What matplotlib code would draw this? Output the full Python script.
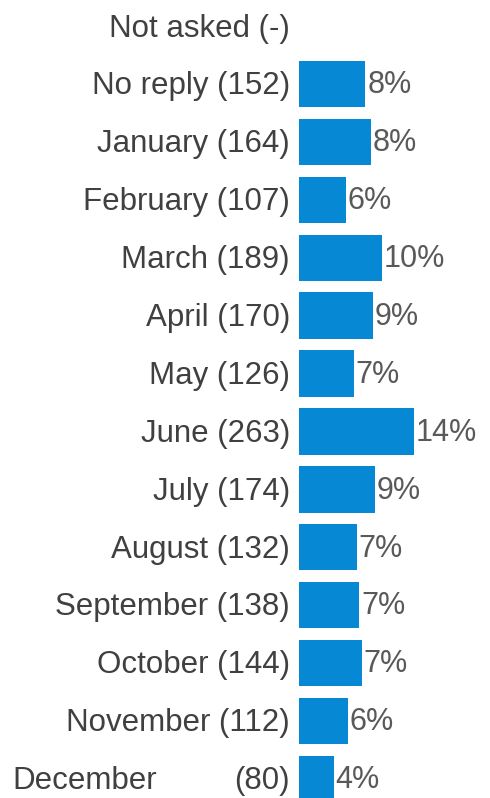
import matplotlib
matplotlib.use("Agg")
import matplotlib.pyplot as plt

categories = ["Not asked", "No reply", "January", "February", "March", "April", "May",
              "June", "July", "August", "September", "October", "November", "December"]
counts = [None, 152, 164, 107, 189, 170, 126, 263, 174, 132, 138, 144, 112, 80]
count_labels = ["-", "152", "164", "107", "189", "170", "126", "263", "174", "132",
                "138", "144", "112", "80"]
pct_labels = ["", "8%", "8%", "6%", "10%", "9%", "7%", "14%", "9%", "7%", "7%", "7%", "6%", "4%"]

W, H = 490, 798
fig = plt.figure(figsize=(W / 100, H / 100), dpi=100)
x0 = 299
ax = fig.add_axes([x0 / W, 0, 1 - x0 / W, 1])
ax.axis("off")

row0, step = 25, 57.9
ax.set_ylim((H - row0) / step, -row0 / step)
px_per = 0.437
ax.set_xlim(0, (W - x0) / px_per)

fam = ["Liberation Sans", "DejaVu Sans"]
fs = 22.5
fs_pct = 22
lab_col = "#404040"
pct_col = "#595959"
bar_col = "#0788D4"

for i, (cat, c, cl, p) in enumerate(zip(categories, counts, count_labels, pct_labels)):
    yc = row0 + step * i
    if c is not None:
        ax.barh(i + 0.02, c, height=0.8, color=bar_col, edgecolor="none")
        ax.text(c + 4, i + 10.5 / step, p, ha="left", va="baseline", fontsize=fs_pct,
                color=pct_col, family=fam)
    y = 1 - (yc + 11.5) / H
    if cat == "December":
        fig.text(12 / W, y, cat, ha="left", va="baseline",
                 fontsize=fs, color=lab_col, family=fam)
        fig.text(290 / W, y, f"({cl})", ha="right", va="baseline",
                 fontsize=fs, color=lab_col, family=fam)
    else:
        fig.text(290 / W, y, f"{cat} ({cl})", ha="right",
                 va="baseline", fontsize=fs, color=lab_col, family=fam)

fig.savefig("out.png", dpi=100)
